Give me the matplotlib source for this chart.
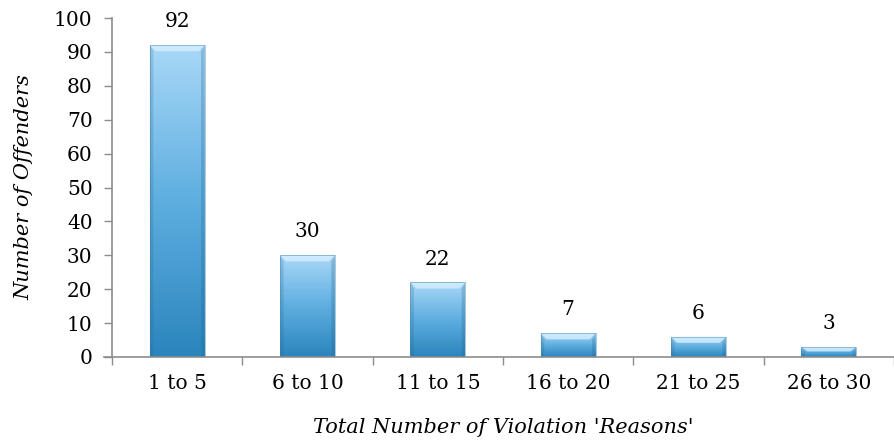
import numpy as np
import matplotlib
matplotlib.use("Agg")
import matplotlib.pyplot as plt
from matplotlib.colors import LinearSegmentedColormap
from matplotlib.patches import Polygon, Rectangle

categories = ["1 to 5", "6 to 10", "11 to 15", "16 to 20", "21 to 25", "26 to 30"]
offenders = [92, 30, 22, 7, 6, 3]
y_ticks = list(range(0, 101, 10))

plt.rcParams["font.family"] = ["DejaVu Serif"]

fig = plt.figure(figsize=(8.94, 4.47), dpi=100)
ax = fig.add_axes([112 / 894, (447 - 357) / 447, 782 / 894, 339 / 447])

bar_w = 0.42
x = np.arange(len(categories))
cmap = LinearSegmentedColormap.from_list("bluegrad", ["#2a85bc", "#5eaee0", "#a9d8f8"])
grad = np.linspace(0, 1, 256).reshape(-1, 1)

bars = ax.bar(x, offenders, width=bar_w, color="none", edgecolor="none", zorder=2)
for b, v in zip(bars, offenders):
    x0, w = b.get_x(), b.get_width()
    im = ax.imshow(grad, cmap=cmap, origin="lower", aspect="auto",
                   extent=[x0, x0 + w, 0, v], zorder=2, interpolation="bilinear")
    im.set_clip_path(b)
    # bevel on top and darker sides
    bh = min(1.8, v * 0.45)
    bw = 0.045
    ax.add_patch(Polygon([[x0, v], [x0 + w, v], [x0 + w - bw, v - bh], [x0 + bw, v - bh]],
                         closed=True, facecolor="#d6efff", edgecolor="none", alpha=0.8, zorder=3))
    ax.add_patch(Polygon([[x0, v], [x0 + bw * 0.6, v - bh], [x0 + bw * 0.6, 0], [x0, 0]],
                         closed=True, facecolor="#1e5f8a", edgecolor="none", alpha=0.2, zorder=3))
    ax.add_patch(Polygon([[x0 + w, v], [x0 + w - bw * 0.6, v - bh], [x0 + w - bw * 0.6, 0], [x0 + w, 0]],
                         closed=True, facecolor="#1e5f8a", edgecolor="none", alpha=0.25, zorder=3))
    ax.add_patch(Rectangle((x0, 0), w, v, facecolor="none", edgecolor="#3f7fa6",
                           linewidth=0.6, alpha=0.5, zorder=4))
    ax.annotate(f"{v}", (x0 + w / 2, v), xytext=(0, 10), textcoords="offset points",
                ha="center", va="bottom", fontsize=14.5)

ax.set_xlim(-0.5, len(categories) - 0.5)
ax.set_ylim(0, 100)
ax.set_yticks(y_ticks)
ax.set_xticks(x)
ax.set_xticklabels(categories)
ax.set_xticks(np.arange(-0.5, len(categories), 1.0), minor=True)
ax.tick_params(axis="x", which="major", length=0, pad=12, labelsize=14.5)
ax.tick_params(axis="x", which="minor", length=6, color="#8c8c8c", width=1)
ax.tick_params(axis="y", length=6, color="#8c8c8c", width=1, labelsize=14.5, pad=8)

for s in ["top", "right"]:
    ax.spines[s].set_visible(False)
for s in ["left", "bottom"]:
    ax.spines[s].set_color("#8c8c8c")
    ax.spines[s].set_linewidth(1.2)
ax.spines["bottom"].set_bounds(-0.5 - 8 / 130.3, len(categories) - 0.5)
ax.spines["bottom"].set_zorder(5)
ax.patch.set_visible(False)

ax.set_xlabel("Total Number of Violation 'Reasons'", fontsize=15, style="italic", labelpad=18)
ax.set_ylabel("Number of Offenders", fontsize=15, style="italic", labelpad=15)

fig.savefig("out.png", dpi=100)
